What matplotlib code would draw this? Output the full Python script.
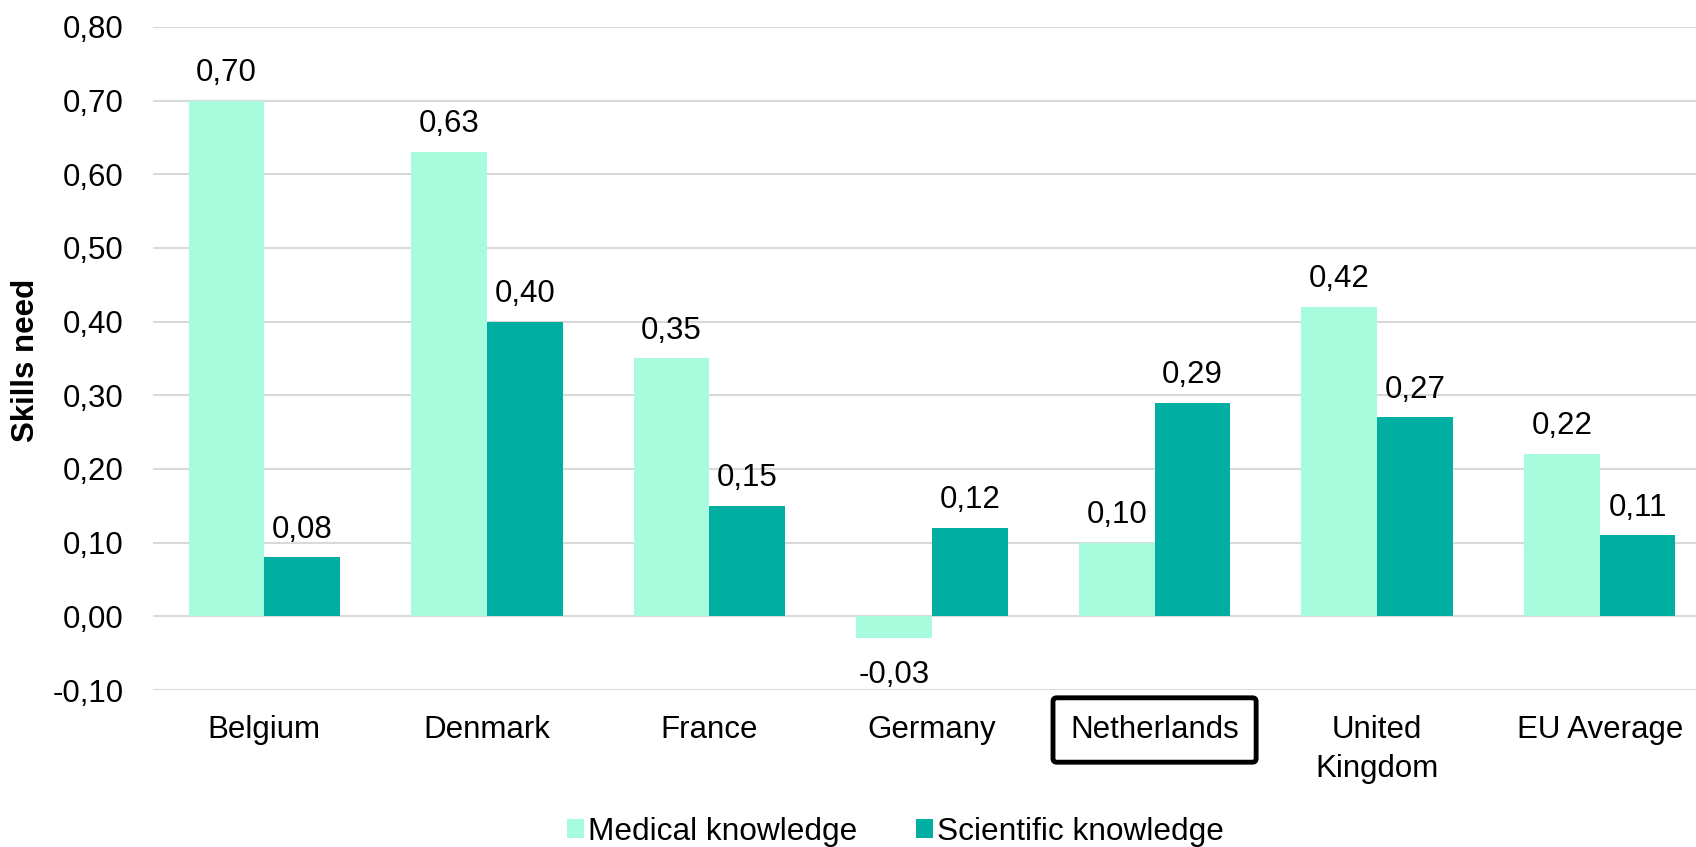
import numpy as np
import matplotlib.pyplot as plt
from matplotlib.ticker import FuncFormatter

plt.rcParams['font.family'] = ['Liberation Sans', 'DejaVu Sans']

countries = ['Belgium', 'Denmark', 'France', 'Germany', 'Netherlands',
             'United\nKingdom', 'EU Average']
medical = [0.70, 0.63, 0.35, -0.03, 0.10, 0.42, 0.22]
scientific = [0.08, 0.40, 0.15, 0.12, 0.29, 0.27, 0.11]

c_med = '#A8FCDE'
c_sci = '#00AFA1'
fs = 22.5

fig = plt.figure(figsize=(16.96, 8.47), dpi=100)
ax = fig.add_axes([153 / 1696, 157 / 847, 1558 / 1696, 663 / 847])

pos = np.arange(len(countries))
width = 0.34

b1 = ax.bar(pos - width / 2, medical, width, color=c_med, label='Medical knowledge', zorder=2)
b2 = ax.bar(pos + width / 2, scientific, width, color=c_sci, label='Scientific knowledge', zorder=2)

def fmt(v):
    return f'{v:.2f}'.replace('.', ',')

# value labels above (or below, for negatives) each bar
for bars, vals in [(b1, medical), (b2, scientific)]:
    for rect, v in zip(bars, vals):
        x = rect.get_x() + rect.get_width() / 2
        off = 20 if v >= 0 else -26
        ax.annotate(fmt(v), (x, v), xytext=(0, off), textcoords='offset points',
                    ha='center', va='center', fontsize=fs)

ax.set_xlim(-0.5, len(countries) - 0.5)
ax.set_ylim(-0.10, 0.80)
ax.set_yticks(np.arange(-0.1, 0.81, 0.1))
ax.yaxis.set_major_formatter(FuncFormatter(lambda v, p: fmt(round(v, 2)).replace('-0,00', '0,00')))
ax.yaxis.grid(True, color='#D9D9D9', linewidth=1.5, zorder=0)
ax.set_axisbelow(True)
for s in ax.spines.values():
    s.set_visible(False)
ax.tick_params(axis='both', length=0, labelsize=fs)
ax.tick_params(axis='y', pad=21)
ax.tick_params(axis='x', pad=18)
ax.set_xticks(pos)
ax.set_xticklabels(countries, linespacing=1.4, va='top')

nl = ax.get_xticklabels()[4]
nl.set_bbox(dict(boxstyle='round,pad=0.55,rounding_size=0.12', facecolor='white',
                 edgecolor='black', linewidth=3.5))

fig.text(26 / 1696, 1 - 360 / 847, 'Skills need', rotation=90,
         ha='center', va='center', fontsize=fs, fontweight='bold')

fig.legend(handles=[b1, b2], loc='center', bbox_to_anchor=(0.528, 0.018),
           bbox_transform=fig.transFigure, ncol=2, frameon=False, fontsize=22.8,
           handlelength=0.55, handleheight=0.55, handletextpad=0.12, columnspacing=1.85,
           borderpad=0)

fig.savefig('out.png', dpi=100)
